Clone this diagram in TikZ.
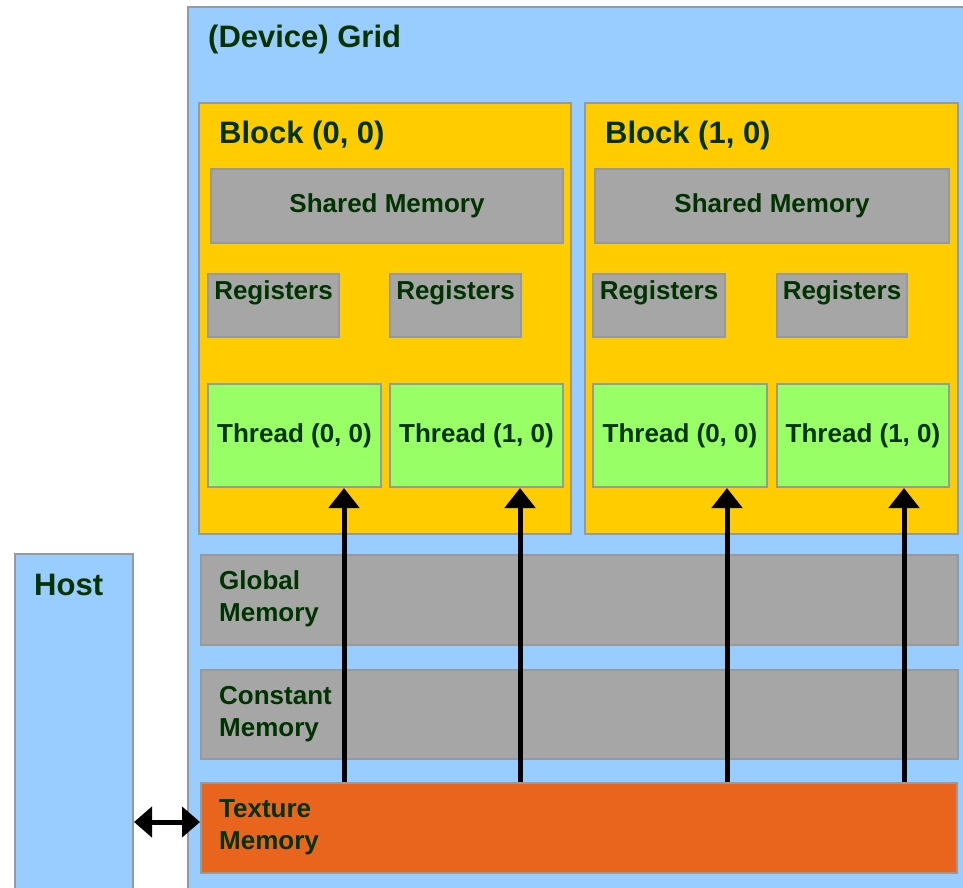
\documentclass[tikz,border=0pt]{standalone}
\usepackage{fontspec}
\setmainfont{Liberation Sans}
\usetikzlibrary{arrows.meta,calc}

\definecolor{skyfill}{HTML}{99CCFF}
\definecolor{blockfill}{HTML}{FFCC00}
\definecolor{memfill}{HTML}{A6A6A6}
\definecolor{threadfill}{HTML}{99FF66}
\definecolor{texfill}{HTML}{E9641C}
\definecolor{edgegray}{HTML}{999999}
\definecolor{labelgreen}{HTML}{003300}

\begin{document}
\begin{tikzpicture}[
  x=1pt, y=-1pt,
  box/.style={draw=edgegray, line width=2pt, inner sep=0pt, anchor=north west},
  skybox/.style={box, fill=skyfill},
  blockbox/.style={box, fill=blockfill},
  membox/.style={box, fill=memfill},
  threadbox/.style={box, fill=threadfill},
  texbox/.style={box, fill=texfill},
  smalltxt/.style={text=labelgreen, font=\fontsize{26}{32}\selectfont\bfseries, inner sep=0pt},
  bigtxt/.style={text=labelgreen, font=\fontsize{31}{37}\selectfont\bfseries, inner sep=0pt},
  memtxt/.style={smalltxt, align=left, anchor=west},
  flow/.style={line width=5pt, -{Triangle[width=30pt,length=20pt]}},
  biflow/.style={line width=5pt, {Triangle[width=30pt,length=18pt]}-{Triangle[width=30pt,length=18pt]}}
]
\useasboundingbox (0,0) rectangle (963,887);
\clip (0,0) rectangle (963,887);
\fill[white] (0,0) rectangle (963,887);

% host and device grid frames
\node[skybox, minimum width=118pt, minimum height=360pt] (host) at (14,553) {};
\node[bigtxt, anchor=base west] (hosttitle) at (34,595) {Host};
\node[skybox, minimum width=800pt, minimum height=900pt] (grid) at (187,6) {};
\node[bigtxt, anchor=base west] (gridtitle) at (208,47) {(Device) Grid};

% block (0, 0)
\node[blockbox, minimum width=372pt, minimum height=431pt] (blk0) at (198,102) {};
\node[bigtxt, anchor=base west] (blk0title) at (219,143) {Block (0, 0)};
\node[membox, minimum width=352pt, minimum height=74pt] (sm0) at (210,168) {};
\node[smalltxt] (sm0t) at (sm0.center) {Shared Memory};
\node[membox, minimum width=131pt, minimum height=63pt] (reg00) at (207,273) {};
\node[smalltxt, anchor=base] (reg00t) at ([yshift=-26pt]reg00.north) {Registers};
\node[membox, minimum width=131pt, minimum height=63pt] (reg01) at (389,273) {};
\node[smalltxt, anchor=base] (reg01t) at ([yshift=-26pt]reg01.north) {Registers};
\node[threadbox, minimum width=173pt, minimum height=103pt] (thr00) at (207,383) {};
\node[smalltxt] (thr00t) at (thr00.center) {Thread (0, 0)};
\node[threadbox, minimum width=173pt, minimum height=103pt] (thr01) at (389,383) {};
\node[smalltxt] (thr01t) at (thr01.center) {Thread (1, 0)};

% block (1, 0)
\node[blockbox, minimum width=373pt, minimum height=431pt] (blk1) at (584,102) {};
\node[bigtxt, anchor=base west] (blk1title) at (605,143) {Block (1, 0)};
\node[membox, minimum width=354pt, minimum height=74pt] (sm1) at (594,168) {};
\node[smalltxt] (sm1t) at (sm1.center) {Shared Memory};
\node[membox, minimum width=132pt, minimum height=63pt] (reg10) at (592,273) {};
\node[smalltxt, anchor=base] (reg10t) at ([yshift=-26pt]reg10.north) {Registers};
\node[membox, minimum width=130pt, minimum height=63pt] (reg11) at (776,273) {};
\node[smalltxt, anchor=base] (reg11t) at ([yshift=-26pt]reg11.north) {Registers};
\node[threadbox, minimum width=174pt, minimum height=103pt] (thr10) at (592,383) {};
\node[smalltxt] (thr10t) at (thr10.center) {Thread (0, 0)};
\node[threadbox, minimum width=172pt, minimum height=103pt] (thr11) at (776,383) {};
\node[smalltxt] (thr11t) at (thr11.center) {Thread (1, 0)};

% device-wide memories
\node[membox, minimum width=757pt, minimum height=90pt] (glob) at (200,554) {};
\node[memtxt] (globt) at (219,599) {Global\\Memory};
\node[membox, minimum width=757pt, minimum height=89pt] (const) at (200,669) {};
\node[memtxt] (constt) at (219,714) {Constant\\Memory};
\node[texbox, minimum width=756pt, minimum height=90pt] (tex) at (200,782) {};
\node[memtxt] (text) at (219,827) {Texture\\Memory};

% texture reads by each thread
\coordinate (c00) at (344,0);
\coordinate (c01) at (520,0);
\coordinate (c10) at (727,0);
\coordinate (c11) at (904,0);
\draw[flow] (tex.north -| c00) -- (thr00.south -| c00);
\draw[flow] (tex.north -| c01) -- (thr01.south -| c01);
\draw[flow] (tex.north -| c10) -- (thr10.south -| c10);
\draw[flow] (tex.north -| c11) -- (thr11.south -| c11);

% host <-> texture memory
\coordinate (hx) at (0,822);
\draw[biflow] (host.east |- hx) -- (tex.west |- hx);
\end{tikzpicture}
\end{document}
